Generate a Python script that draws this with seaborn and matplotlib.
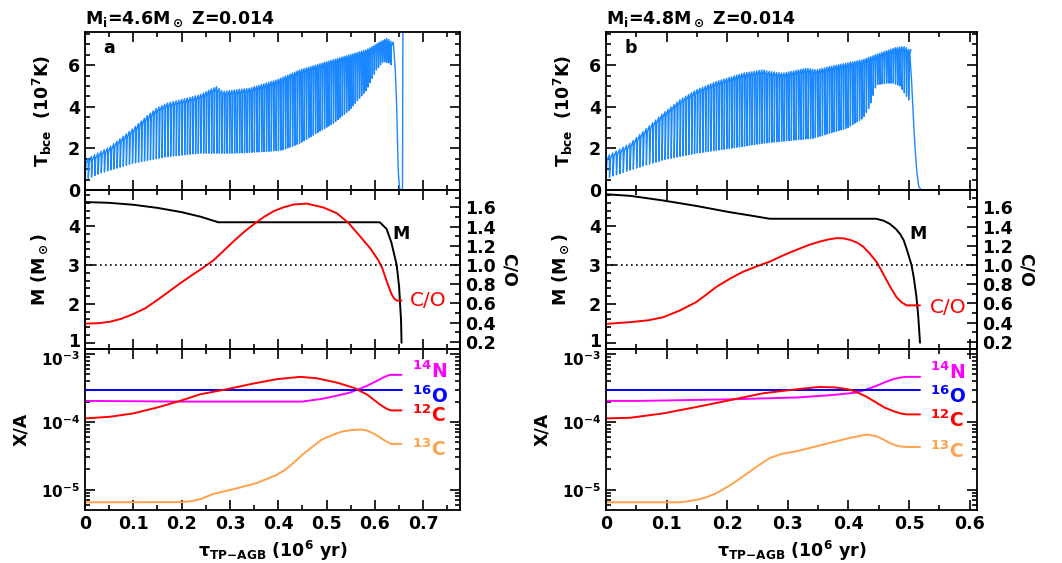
import numpy as np
import matplotlib
matplotlib.use("Agg")
import matplotlib.pyplot as plt
import matplotlib.transforms as mtransforms
import seaborn as sns
from matplotlib.ticker import MultipleLocator, LogLocator, NullFormatter

# --- DATOS ---
# Panel a: Mi = 4.6, Z = 0.014
tb_up_t_a = [0, 0.052, 0.10, 0.125, 0.148, 0.17, 0.197, 0.238, 0.272, 0.286, 0.341, 0.397, 0.445, 0.514, 0.583, 0.625, 0.636]
tb_up_a = [1.45, 2.09, 2.97, 3.5, 3.94, 4.18, 4.34, 4.58, 4.98, 4.74, 4.9, 5.3, 5.78, 6.27, 6.75, 7.3, 7.1]
tb_lo_t_a = [0, 0.031, 0.1, 0.169, 0.238, 0.307, 0.376, 0.41, 0.445, 0.479, 0.514, 0.548, 0.583, 0.603, 0.617, 0.631, 0.636]
tb_lo_a = [0.48, 0.8, 1.29, 1.6, 1.77, 1.77, 1.85, 1.93, 2.25, 2.73, 3.21, 3.86, 4.82, 5.78, 6.18, 6.1, 5.9]
pulse_dt_t_a = [0, 0.3, 0.64]
pulse_dt_a = [0.0068, 0.0052, 0.0042]
tb_tail_t_a = [0.638, 0.642, 0.645, 0.648, 0.651, 0.657, 0.658]
tb_tail_a = [7.1, 5.8, 4.0, 1.0, 0.05, 0.0, 9.0]

m_t_a = [0, 0.05, 0.1, 0.15, 0.2, 0.24, 0.276, 0.61, 0.624, 0.634, 0.645, 0.650, 0.654, 0.655]
m_a = [4.62, 4.60, 4.55, 4.47, 4.36, 4.24, 4.1, 4.1, 3.93, 3.58, 3.0, 2.44, 1.58, 1.0]
co_t_a = [0, 0.03, 0.052, 0.075, 0.1, 0.125, 0.148, 0.17, 0.197, 0.22, 0.238, 0.266, 0.285, 0.307,
          0.328, 0.348, 0.37, 0.39, 0.41, 0.431, 0.459, 0.493, 0.521, 0.545, 0.569, 0.59, 0.607,
          0.615, 0.621, 0.628, 0.634, 0.64, 0.645, 0.655]
co_a = [0.39, 0.395, 0.41, 0.44, 0.49, 0.55, 0.63, 0.71, 0.81, 0.89, 0.95, 1.05, 1.14, 1.245,
        1.34, 1.42, 1.50, 1.56, 1.60, 1.63, 1.64, 1.6, 1.54, 1.44, 1.30, 1.175, 1.05,
        0.97, 0.88, 0.78, 0.70, 0.65, 0.63, 0.63]

o16_t_a = [0, 0.655]
o16_a = [-3.528, -3.528]
n14_t_a = [0, 0.2, 0.45, 0.49, 0.514, 0.548, 0.583, 0.60, 0.617, 0.627, 0.634, 0.655]
n14_a = [-3.69, -3.70, -3.70, -3.66, -3.625, -3.568, -3.469, -3.41, -3.346, -3.315, -3.306, -3.306]
c12_t_a = [0, 0.052, 0.1, 0.148, 0.197, 0.238, 0.293, 0.348, 0.397, 0.445, 0.479, 0.521,
           0.555, 0.583, 0.61, 0.625, 0.634, 0.655]
c12_a = [-3.948, -3.923, -3.874, -3.79, -3.69, -3.593, -3.519, -3.435, -3.37, -3.336, -3.356, -3.42,
         -3.494, -3.593, -3.741, -3.81, -3.83, -3.83]
c13_t_a = [0, 0.2, 0.22, 0.238, 0.266, 0.307, 0.355, 0.397, 0.415, 0.431, 0.45, 0.472, 0.49, 0.514,
           0.53, 0.548, 0.572, 0.585, 0.597, 0.607, 0.617, 0.627, 0.634, 0.655]
c13_a = [-5.183, -5.18, -5.165, -5.138, -5.059, -4.99, -4.9, -4.778, -4.70, -4.605, -4.48, -4.358,
         -4.26, -4.185, -4.145, -4.121, -4.111, -4.13, -4.17, -4.21, -4.26, -4.30, -4.323, -4.323]

# Panel b: Mi = 4.8, Z = 0.014
tb_up_t_b = [0, 0.04, 0.0945, 0.122, 0.149, 0.182, 0.226, 0.259, 0.27, 0.292, 0.331, 0.347, 0.369,
             0.424, 0.452, 0.479, 0.493, 0.500]
tb_up_b = [1.6, 2.25, 3.7, 4.34, 4.82, 5.22, 5.62, 5.78, 5.7, 5.62, 5.86, 5.78, 5.94,
           6.27, 6.59, 6.86, 6.9, 6.75]
tb_lo_t_b = [0, 0.04, 0.0945, 0.149, 0.204, 0.259, 0.314, 0.342, 0.369, 0.397, 0.424, 0.435,
             0.446, 0.463, 0.474, 0.485, 0.496, 0.500]
tb_lo_b = [0.56, 0.96, 1.45, 1.77, 2.0, 2.25, 2.41, 2.49, 2.73, 2.97, 3.45, 4.0,
           5.06, 5.14, 5.14, 5.0, 4.5, 4.3]
pulse_dt_t_b = [0, 0.2, 0.5]
pulse_dt_b = [0.0058, 0.0042, 0.0036]
tb_tail_t_b = [0.501, 0.504, 0.507, 0.510, 0.513, 0.516, 0.52]
tb_tail_b = [6.6, 5.3, 3.5, 1.93, 0.8, 0.16, 0.0]

m_t_b = [0, 0.04, 0.0945, 0.149, 0.204, 0.24, 0.27, 0.446, 0.458, 0.468, 0.478, 0.485, 0.491, 0.496,
         0.504, 0.508, 0.512, 0.515, 0.518]
m_b = [4.82, 4.78, 4.66, 4.52, 4.36, 4.27, 4.19, 4.19, 4.14, 4.06, 3.93, 3.80, 3.64, 3.41,
       3.0, 2.65, 2.19, 1.7, 1.0]
co_t_b = [0, 0.04, 0.07, 0.0945, 0.122, 0.149, 0.165, 0.182, 0.205, 0.226, 0.25, 0.27, 0.292, 0.314,
          0.335, 0.353, 0.368, 0.38, 0.392, 0.402, 0.414, 0.424, 0.435, 0.446, 0.455, 0.463, 0.471,
          0.479, 0.488, 0.496, 0.518]
co_b = [0.387, 0.405, 0.425, 0.457, 0.527, 0.615, 0.69, 0.772, 0.86, 0.93, 0.99, 1.035, 1.10, 1.158,
        1.21, 1.245, 1.268, 1.28, 1.278, 1.263, 1.235, 1.193, 1.12, 1.035, 0.935, 0.84, 0.75,
        0.667, 0.61, 0.58, 0.58]

o16_t_b = [0, 0.518]
o16_b = [-3.528, -3.528]
n14_t_b = [0, 0.055, 0.204, 0.314, 0.369, 0.413, 0.43, 0.446, 0.46, 0.474, 0.486, 0.496, 0.518]
n14_b = [-3.69, -3.69, -3.667, -3.64, -3.607, -3.568, -3.52, -3.469, -3.415, -3.37, -3.345, -3.336, -3.336]
c12_t_b = [0, 0.04, 0.0945, 0.149, 0.204, 0.259, 0.314, 0.353, 0.38, 0.40, 0.413, 0.43, 0.446, 0.46,
           0.474, 0.486, 0.496, 0.518]
c12_b = [-3.948, -3.938, -3.874, -3.78, -3.68, -3.578, -3.519, -3.484, -3.494, -3.52, -3.558, -3.63,
         -3.716, -3.79, -3.84, -3.875, -3.889, -3.889]
c13_t_b = [0, 0.122, 0.149, 0.165, 0.182, 0.205, 0.226, 0.25, 0.27, 0.29, 0.314, 0.369, 0.402, 0.43,
           0.446, 0.458, 0.468, 0.478, 0.485, 0.495, 0.518]
c13_b = [-5.183, -5.183, -5.148, -5.11, -5.049, -4.93, -4.802, -4.65, -4.531, -4.47, -4.432, -4.309,
         -4.235, -4.185, -4.21, -4.26, -4.309, -4.345, -4.36, -4.368, -4.368]

titles = [r"M$_{\rm i}$=4.6M$_\odot$ Z=0.014", r"M$_{\rm i}$=4.8M$_\odot$ Z=0.014"]
letters = ["a", "b"]

# --- ESTILO ---
sns.set_theme(style="ticks")
plt.rcParams['font.family'] = ['DejaVu Sans']
plt.rcParams['font.weight'] = 'bold'
plt.rcParams['axes.labelweight'] = 'bold'
plt.rcParams['text.color'] = 'black'
plt.rcParams['axes.labelcolor'] = 'black'
plt.rcParams['xtick.color'] = 'black'
plt.rcParams['ytick.color'] = 'black'
plt.rcParams['mathtext.fontset'] = 'custom'
plt.rcParams['mathtext.rm'] = 'DejaVu Sans:bold'
plt.rcParams['mathtext.it'] = 'DejaVu Sans:bold:italic'
plt.rcParams['mathtext.bf'] = 'DejaVu Sans:bold'
plt.rcParams['mathtext.default'] = 'rm'

FS = 12.5
BLUE_T = '#1a87ff'
ORANGE = '#ffa24a'


def pulse_track(dt_t, dt_v, up_t, up_v, lo_t, lo_v, t_end):
    # serie de pulsos: caída al mínimo en cada pulso y recuperación hasta la envolvente superior
    ts, vs = [], []
    t = 0.0
    while t < t_end:
        dt = np.interp(t, dt_t, dt_v)
        ts += [t, t + 0.3 * dt, t + 0.95 * dt]
        vs += [np.interp(t, lo_t, lo_v),
               np.interp(t + 0.3 * dt, up_t, up_v) - 0.2,
               np.interp(t + 0.95 * dt, up_t, up_v)]
        t += dt
    return ts, vs


def style_ax(ax, right=True):
    for s in ax.spines.values():
        s.set_linewidth(1.3)
        s.set_color('black')
    ax.tick_params(which='both', direction='in', top=True, right=right, colors='black',
                   labelsize=FS, width=1.2)
    ax.tick_params(which='major', length=7)
    ax.tick_params(which='minor', length=3.5)
    ax.xaxis.set_major_locator(MultipleLocator(0.1))
    ax.xaxis.set_minor_locator(MultipleLocator(0.05))


def shift_label(fig, labels, value, dy_px):
    # desplaza solo la etiqueta del tick 'value' unos pixeles
    off = mtransforms.ScaledTranslation(0, dy_px / 100, fig.dpi_scale_trans)
    for lbl in labels:
        if np.isclose(lbl.get_position()[1], value, rtol=1e-6):
            lbl.set_transform(lbl.get_transform() + off)


fig = plt.figure(figsize=(10.62, 5.63), dpi=100)

panels = [
    dict(x0=85, x1=460, xmax=0.776,
         up=(tb_up_t_a, tb_up_a), lo=(tb_lo_t_a, tb_lo_a), dt=(pulse_dt_t_a, pulse_dt_a),
         tail=(tb_tail_t_a, tb_tail_a), m=(m_t_a, m_a), co=(co_t_a, co_a),
         o16=(o16_t_a, o16_a), n14=(n14_t_a, n14_a), c12=(c12_t_a, c12_a), c13=(c13_t_a, c13_a),
         mlab=(0.654, 3.81), colab=(0.672, 0.632), xiso=0.676,
         yiso=[-3.247, -3.618, -3.904, -4.407]),
    dict(x0=606, x1=977, xmax=0.612,
         up=(tb_up_t_b, tb_up_b), lo=(tb_lo_t_b, tb_lo_b), dt=(pulse_dt_t_b, pulse_dt_b),
         tail=(tb_tail_t_b, tb_tail_b), m=(m_t_b, m_b), co=(co_t_b, co_b),
         o16=(o16_t_b, o16_b), n14=(n14_t_b, n14_b), c12=(c12_t_b, c12_b), c13=(c13_t_b, c13_b),
         mlab=(0.514, 3.80), colab=(0.535, 0.562), xiso=0.535,
         yiso=[-3.27, -3.618, -3.97, -4.43]),
]

W, H = 1062, 563
for k, p in enumerate(panels):
    left = p['x0'] / W
    width = (p['x1'] - p['x0']) / W
    ax1 = fig.add_axes([left, 1 - 190 / H, width, 158 / H])
    ax2 = fig.add_axes([left, 1 - 349 / H, width, 159 / H])
    ax3 = fig.add_axes([left, 1 - 510 / H, width, 161 / H])

    # --- T_bce ---
    t_end = p['up'][0][-1]
    ts, vs = pulse_track(*p['dt'], *p['up'], *p['lo'], t_end)
    ts += list(p['tail'][0])
    vs += list(p['tail'][1])
    sns.lineplot(x=ts, y=vs, ax=ax1, color=BLUE_T, lw=1.0, estimator=None, sort=False)
    ax1.set_xlim(0, p['xmax'])
    ax1.set_ylim(0, 7.6)
    style_ax(ax1)
    ax1.yaxis.set_major_locator(MultipleLocator(2))
    ax1.yaxis.set_minor_locator(MultipleLocator(0.5))
    ax1.set_xticklabels([])
    ax1.set_ylabel(r"T$_{\rm bce}$  (10$^7$K)", fontsize=FS, labelpad=10)
    ax1.set_title(titles[k], loc='left', fontsize=FS, fontweight='bold', pad=5)
    ax1.text(0.05, 0.87, letters[k], transform=ax1.transAxes, fontsize=FS, fontweight='bold')

    # --- M y C/O ---
    axr = ax2.twinx()
    sns.lineplot(x=p['m'][0], y=p['m'][1], ax=ax2, color='black', lw=1.4, estimator=None, sort=False)
    sns.lineplot(x=p['co'][0], y=p['co'][1], ax=axr, color='red', lw=1.4, estimator=None, sort=False)
    axr.axhline(1.0, color='black', lw=1.2, ls=(0, (1, 2)))
    ax2.set_xlim(0, p['xmax'])
    ax2.set_ylim(0.84, 4.93)
    axr.set_ylim(0.1256, 1.7816)
    style_ax(ax2, right=False)
    style_ax(axr)
    axr.tick_params(which='both', left=False, top=False)
    ax2.yaxis.set_major_locator(MultipleLocator(1))
    ax2.yaxis.set_minor_locator(MultipleLocator(0.2))
    axr.yaxis.set_major_locator(MultipleLocator(0.2))
    axr.yaxis.set_minor_locator(MultipleLocator(0.1))
    axr.yaxis.set_major_formatter(matplotlib.ticker.FormatStrFormatter('%.1f'))
    ax2.set_xticklabels([])
    ax2.set_ylabel(r"M (M$_\odot$)", fontsize=FS, labelpad=12)
    axr.set_ylabel("C/O", fontsize=FS, rotation=270, labelpad=16)
    ax2.text(*p['mlab'], "M", fontsize=FS, fontweight='bold', ha='center', va='center')
    axr.text(*p['colab'], "C/O", fontsize=FS + 2, fontweight='normal', color='red', ha='left', va='center')

    # --- abundancias ---
    curves = [(p['n14'], 'magenta', r"$^{14}$N"), (p['o16'], 'blue', r"$^{16}$O"),
              (p['c12'], 'red', r"$^{12}$C"), (p['c13'], ORANGE, r"$^{13}$C")]
    for (tt, lv), col, lab in curves:
        sns.lineplot(x=tt, y=10 ** np.array(lv), ax=ax3, color=col, lw=1.4, estimator=None, sort=False)
    ax3.set_yscale('log')
    ax3.set_xlim(0, p['xmax'])
    ax3.set_ylim(10 ** -5.296, 10 ** -2.926)
    style_ax(ax3)
    ax3.yaxis.set_major_locator(LogLocator(base=10))
    ax3.yaxis.set_minor_locator(LogLocator(base=10, subs=np.arange(2, 10)))
    ax3.yaxis.set_minor_formatter(NullFormatter())
    ax3.tick_params(axis='y', which='major', labelsize=FS - 1.5)
    for ((tt, lv), col, lab), yl in zip(curves, p['yiso']):
        ax3.text(p['xiso'], 10 ** yl, lab, color=col, fontsize=FS + 1, ha='left', va='center')
    ax3.set_ylabel("X/A", fontsize=FS, labelpad=8)
    ax3.set_xlabel(r"$\tau_{\rm TP{-}AGB}$ (10$^6$ yr)", fontsize=FS)
    ax3.xaxis.set_major_formatter(matplotlib.ticker.FuncFormatter(lambda v, _: "0" if abs(v) < 1e-9 else f"{v:.1f}"))

    # separar las dos etiquetas que se tocan en el borde entre paneles
    fig.canvas.draw()
    shift_label(fig, ax3.get_yticklabels(), 1e-3, -4)
    shift_label(fig, ax2.get_yticklabels(), 1.0, 3)

fig.savefig("out.png", dpi=100)
